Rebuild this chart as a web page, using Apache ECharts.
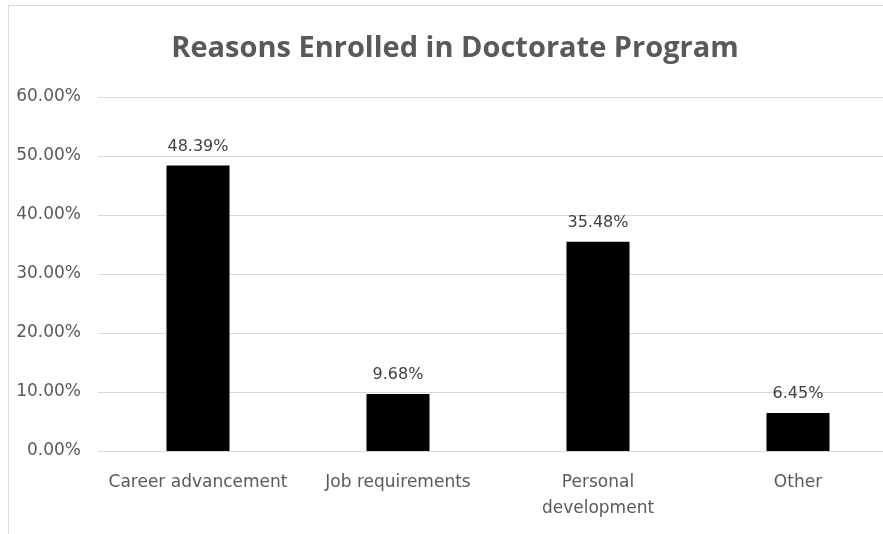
<!DOCTYPE html>
<html><head><meta charset="utf-8">
<script src="https://cdn.jsdelivr.net/npm/echarts@6/dist/echarts.min.js"></script>
<style>html,body{margin:0;padding:0;background:#fff;overflow:hidden}#c{width:900px;height:534px}</style>
</head><body><div id="c"></div>
<script>
const categories = ['Career advancement', 'Job requirements', 'Personal\ndevelopment', 'Other'];
const values = [48.39, 9.68, 35.48, 6.45];
const titleText = 'Reasons Enrolled in Doctorate Program';
const font = '"DejaVu Sans", "Open Sans", sans-serif';
const tfont = '"Open Sans", "Noto Sans", sans-serif';
const chart = echarts.init(document.getElementById('c'));
chart.setOption({
  animation: false,
  backgroundColor: '#fff',
  title: { text: titleText, left: 450, top: 29, textAlign: 'center',
    textStyle: { fontFamily: tfont, fontSize: 29, fontWeight: 'bold', color: '#595959' } },
  graphic: [
    { type: 'line', shape: { x1: 8, y1: 5.5, x2: 900, y2: 5.5 }, style: { stroke: '#d9d9d9', lineWidth: 1 } },
    { type: 'line', shape: { x1: 8.5, y1: 5, x2: 8.5, y2: 534 }, style: { stroke: '#d9d9d9', lineWidth: 1 } }
  ],
  grid: { left: 98, right: 2, top: 97, bottom: 83, containLabel: false },
  xAxis: { type: 'category', data: categories,
    axisLine: { show: true, lineStyle: { color: '#d9d9d9', width: 1 } },
    axisTick: { show: false },
    axisLabel: { interval: 0, margin: 19, lineHeight: 26, fontFamily: font, fontSize: 17, color: '#595959' } },
  yAxis: { type: 'value', min: 0, max: 60, interval: 10,
    axisLine: { show: false }, axisTick: { show: false },
    splitLine: { lineStyle: { color: '#d9d9d9', width: 1 } },
    axisLabel: { margin: 17, fontFamily: font, fontSize: 17, color: '#595959',
      formatter: v => v.toFixed(2) + '%' } },
  series: [{ type: 'bar', data: values, barWidth: 63,
    itemStyle: { color: '#000' },
    label: { show: true, position: 'top', distance: 11, fontFamily: font, fontSize: 16, color: '#404040',
      formatter: p => p.value.toFixed(2) + '%' } }]
});
</script></body></html>
